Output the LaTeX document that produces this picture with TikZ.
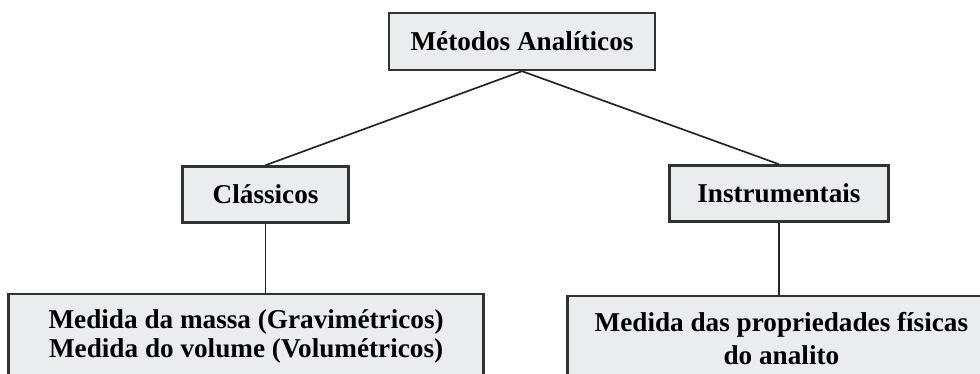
\documentclass[tikz,border=0pt]{standalone}
\usepackage{fontspec}
\setmainfont{Liberation Serif}
\usepackage{tikz}
\usetikzlibrary{positioning}

\definecolor{boxfill}{RGB}{235,236,238}
\definecolor{boxline}{RGB}{50,50,50}

\begin{document}
\begin{tikzpicture}[font=\bfseries\fontsize{13.6}{14.5}\selectfont,
    block/.style={rectangle, draw=boxline, line width=1.2pt, fill=boxfill, inner sep=0pt, align=center},
    link/.style={draw=black!85, line width=0.85pt}]

    \useasboundingbox (0,0) rectangle (490pt,-187pt);

    \node (metodos) [block, minimum width=133pt, minimum height=28.5pt] at (261pt,-20.75pt) {Métodos Analíticos};

    \node (classicos) [block, minimum width=83pt, minimum height=28pt, below left=47pt and 19pt of metodos] {Clássicos};
    \node (instrum) [block, minimum width=109.5pt, minimum height=28pt, below right=46.5pt and 6pt of metodos] {Instrumentais};

    \node (medl) [block, minimum width=237.5pt, minimum height=43pt, below=34.5pt of classicos, xshift=-9.75pt] {Medida da massa (Gravimétricos)\\Medida do volume (Volumétricos)};
    \node (medr) [block, minimum width=214pt, minimum height=43pt, below=36pt of instrum, xshift=1.25pt] {Medida das propriedades físicas\\[2pt]do analito};

    \draw[link] (metodos.south) -- (classicos.north);
    \draw[link] (metodos.south) -- (instrum.north);
    \draw[link] (classicos.south) -- (classicos.south |- medl.north);
    \draw[link] (instrum.south) -- (instrum.south |- medr.north);

\end{tikzpicture}
\end{document}
